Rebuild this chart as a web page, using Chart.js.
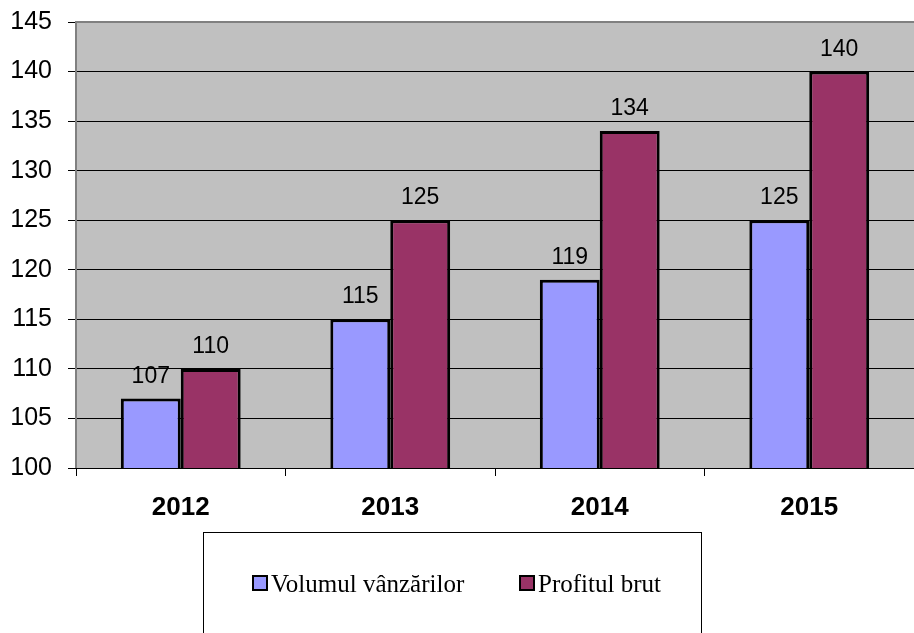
<!DOCTYPE html>
<html>
<head>
<meta charset="utf-8">
<script src="https://cdn.jsdelivr.net/npm/chart.js@4/dist/chart.umd.min.js"></script>
<style>
    body { margin: 0; background: #fff; }
    #wrap { position: relative; width: 914px; height: 633px; overflow: hidden; }
    #legend {
        position: absolute; left: 203px; top: 532px; width: 499px; height: 120px;
        border: 1px solid #000; box-sizing: border-box;
        font-family: "Liberation Serif", "Times New Roman", serif; font-size: 25px; color: #000;
    }
    .item { position: absolute; top: 37px; white-space: nowrap; }
    .box { display: inline-block; width: 12px; height: 12px; border: 2px solid #000; margin-right: 3px; vertical-align: 1px; }
</style>
</head>
<body>
<div id="wrap">
    <canvas id="chart" width="914" height="633"></canvas>
    <div id="legend">
        <div class="item" style="left:48px"><span class="box" style="background:#9999FF"></span>Volumul vânzărilor</div>
        <div class="item" style="left:315px"><span class="box" style="background:#993366"></span>Profitul brut</div>
    </div>
</div>
<script>
const years = ['2012', '2013', '2014', '2015'];
const volumVanzari = [107, 115, 119, 125];
const profitBrut = [110, 125, 134, 140];
const seriesNames = ['Volumul vânzărilor', 'Profitul brut'];

// gray plot area + border
const plotBackground = {
    id: 'plotBackground',
    beforeDraw(chart) {
        const { ctx, chartArea: a } = chart;
        ctx.save();
        ctx.fillStyle = '#C0C0C0';
        ctx.fillRect(a.left, a.top, a.right - a.left, a.bottom - a.top);
        ctx.restore();
    },
    afterDraw(chart) {
        const { ctx, chartArea: a } = chart;
        ctx.save();
        ctx.strokeStyle = '#808080';
        ctx.lineWidth = 2;
        ctx.beginPath();
        ctx.moveTo(a.left, a.bottom);
        ctx.lineTo(a.left, a.top);
        ctx.lineTo(a.right, a.top);
        ctx.stroke();
        ctx.restore();
    }
};

// value labels above bars
const valueLabels = {
    id: 'valueLabels',
    afterDatasetsDraw(chart) {
        const ctx = chart.ctx;
        ctx.save();
        ctx.font = '23px Arial, "Liberation Sans", sans-serif';
        ctx.fillStyle = '#000';
        ctx.textAlign = 'center';
        ctx.textBaseline = 'alphabetic';
        chart.data.datasets.forEach((ds, i) => {
            chart.getDatasetMeta(i).data.forEach((bar, j) => {
                ctx.fillText(ds.data[j], bar.x, bar.y - 16);
            });
        });
        ctx.restore();
    }
};

new Chart(document.getElementById('chart'), {
    type: 'bar',
    data: {
        labels: years,
        datasets: [{
            label: seriesNames[0],
            data: volumVanzari,
            backgroundColor: '#9999FF',
            borderColor: '#000',
            borderWidth: 3
        }, {
            label: seriesNames[1],
            data: profitBrut,
            backgroundColor: '#993366',
            borderColor: '#000',
            borderWidth: 3
        }]
    },
    options: {
        responsive: false,
        animation: false,
        layout: { padding: { top: 22, left: 0, right: -4, bottom: 0 } },
        plugins: {
            legend: { display: false },
            tooltip: { enabled: false }
        },
        datasets: {
            bar: { categoryPercentage: 0.572, barPercentage: 1.0 }
        },
        scales: {
            x: {
                grid: { drawOnChartArea: false, color: '#000', tickLength: 8, offset: true },
                border: { display: false },
                ticks: {
                    padding: 16,
                    color: '#000',
                    font: { family: 'Arial, "Liberation Sans", sans-serif', size: 26, weight: 'bold' }
                },
                afterFit(scale) { scale.height = 633 - 468; }
            },
            y: {
                min: 100,
                max: 145,
                ticks: {
                    stepSize: 5,
                    padding: 16,
                    color: '#000',
                    font: { family: 'Arial, "Liberation Sans", sans-serif', size: 25 }
                },
                grid: { color: '#000', lineWidth: 1, tickLength: 8 },
                border: { display: false },
                afterFit(scale) {
                    scale.width = 76;
                    scale.paddingTop = 0;
                    scale.paddingBottom = 0;
                }
            }
        }
    },
    plugins: [plotBackground, valueLabels]
});
</script>
</body>
</html>
